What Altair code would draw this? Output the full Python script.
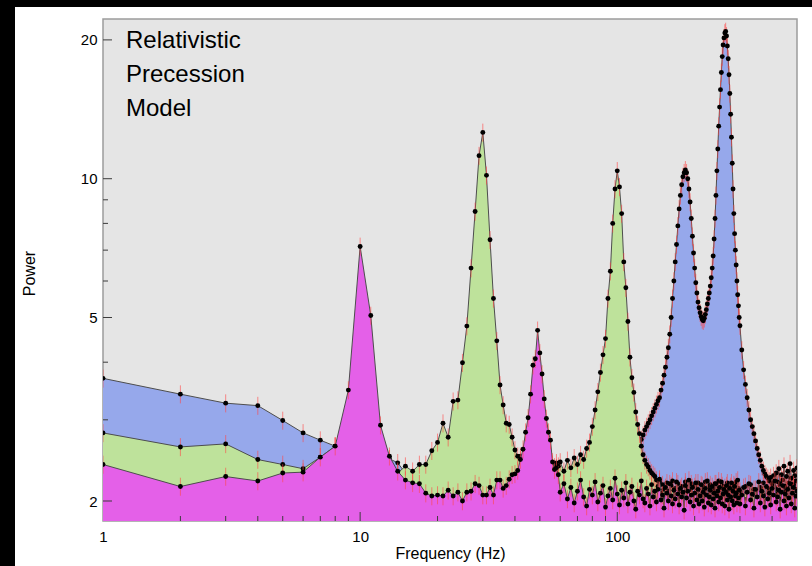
import math
import altair as alt
import pandas as pd

# ---------------- data ----------------
freq_hz = [
    1, 2, 3, 4, 5, 6, 7, 8, 9, 10, 11, 12, 13, 14, 15, 16, 17, 18, 19, 20,
    21, 22, 23, 24, 25, 26, 27, 28, 29, 30, 31, 32, 33, 34, 35, 36, 37, 38, 39, 40,
    41, 42, 43, 44, 45, 46, 47, 48, 49, 50, 51, 52, 53, 54, 55, 56, 57, 58, 59, 60,
    62, 64, 66, 68, 70, 72, 74, 76, 78, 80, 82, 84, 86, 88, 90, 92, 94, 96, 98, 100,
    102, 104, 106, 108, 110, 112, 114, 116, 118, 120, 122, 124, 126, 128, 130, 132, 134, 136, 138, 140,
    142, 144, 146, 148, 150, 152, 154, 156, 158, 160, 162, 164, 166, 168, 170, 172, 174, 176, 178, 180,
    182, 184, 186, 188, 190, 192, 194, 196, 198, 200, 202, 204, 206, 208, 210, 212, 214, 216, 218, 220,
    222, 224, 226, 228, 230, 232, 234, 236, 238, 240, 242, 244, 246, 248, 250, 252, 254, 256, 258, 260,
    262, 264, 266, 268, 270, 272, 274, 276, 278, 280, 282, 284, 286, 288, 290, 292, 294, 296, 298, 300,
    305, 310, 315, 320, 325, 330, 335, 340, 345, 350, 355, 360, 365, 370, 375, 380, 385, 390, 395, 400,
    405, 410, 415, 420, 425, 430, 435, 440, 445, 450, 455, 460, 465, 470, 475, 480, 485, 490, 495, 500,
]

power_blue = [
    3.69, 3.41, 3.26, 3.22, 2.99, 2.81, 2.71, 2.63, 2.55, 2.50,
    2.48, 2.46, 2.47, 2.42, 2.30, 2.25, 2.22, 2.24, 2.20, 2.23,
    2.21, 2.19, 2.22, 2.20, 2.18, 2.21, 2.19, 2.22, 2.20, 2.18,
    2.21, 2.19, 2.17, 2.20, 2.22, 2.18, 2.21, 2.19, 2.20, 2.17,
    2.21, 2.19, 2.22, 2.18, 2.20, 2.21, 2.17, 2.19, 2.22, 2.20,
    2.18, 2.21, 2.19, 2.23, 2.20, 2.18, 2.22, 2.19, 2.21, 2.20,
    2.20, 2.18, 2.22, 2.19, 2.21, 2.17, 2.20, 2.23, 2.18, 2.21,
    2.19, 2.22, 2.20, 2.18, 2.21, 2.24, 2.19, 2.22, 2.20, 2.25,
    2.28, 2.30, 2.32, 2.35, 2.38, 2.42, 2.45, 2.50, 2.55, 2.60,
    2.66, 2.72, 2.78, 2.85, 2.90, 2.95, 3.00, 3.06, 3.12, 3.18,
    3.24, 3.30, 3.35, 3.48, 3.60, 3.75, 3.90, 4.10, 4.30, 4.60,
    5.00, 5.50, 6.00, 6.60, 7.20, 7.90, 8.60, 9.20, 9.70, 10.1,
    10.3, 10.45, 10.3, 10.0, 9.5, 8.9, 8.2, 7.5, 6.9, 6.4,
    5.95, 5.65, 5.40, 5.25, 5.12, 5.02, 4.95, 4.92, 4.98, 5.08,
    5.20, 5.35, 5.50, 5.65, 5.85, 6.10, 6.40, 6.80, 7.40, 8.20,
    9.20, 10.4, 11.6, 13.0, 14.3, 15.6, 17.0, 18.4, 19.5, 20.2,
    20.7, 20.85, 20.4, 19.4, 18.2, 16.8, 15.3, 13.8, 12.3, 10.8,
    9.5, 8.4, 7.6, 7.0, 6.5, 6.0, 5.6, 5.3, 5.0, 4.8,
    4.25, 3.85, 3.58, 3.35, 3.15, 3.00, 2.90, 2.80, 2.70, 2.60,
    2.52, 2.45, 2.38, 2.33, 2.29, 2.26, 2.24, 2.21, 2.25, 2.18,
    2.27, 2.14, 2.30, 2.20, 2.35, 2.16, 2.28, 2.22, 2.38, 2.15,
    2.26, 2.32, 2.19, 2.41, 2.24, 2.17, 2.33, 2.27, 2.21, 2.36,
]

power_green = [
    2.81, 2.62, 2.66, 2.46, 2.40, 2.35, 2.49, 2.63, 2.58, 2.54,
    2.50, 2.46, 2.42, 2.30, 2.38, 2.32, 2.40, 2.40, 2.57, 2.68,
    2.95, 2.75, 3.29, 3.31, 3.99, 4.79, 6.40, 8.49, 11.22, 12.6,
    10.17, 7.37, 5.50, 4.45, 3.57, 3.23, 2.95, 2.93, 2.75, 2.58,
    2.50, 2.50, 2.48, 2.45, 2.43, 2.40, 2.41, 2.38, 2.36, 2.39,
    2.35, 2.37, 2.34, 2.38, 2.36, 2.40, 2.37, 2.42, 2.38, 2.43,
    2.32, 2.45, 2.36, 2.48, 2.40, 2.52, 2.46, 2.60, 2.68, 2.90,
    3.15, 3.45, 3.80, 4.15, 4.50, 5.50, 6.30, 8.00, 9.50, 10.4,
    9.6, 8.4, 6.6, 5.8, 4.9, 4.1, 3.7, 3.44, 3.12, 2.93,
    2.80, 2.63, 2.52, 2.45, 2.40, 2.37, 2.33, 2.30, 2.28, 2.26,
    2.22, 2.15, 2.20, 2.08, 2.17, 2.12, 2.03, 2.19, 2.10, 2.05,
    2.16, 2.21, 1.99, 2.13, 2.07, 2.18, 2.02, 2.11, 2.15, 1.97,
    2.09, 2.20, 2.04, 2.14, 2.01, 2.12, 2.18, 2.06, 1.98, 2.15,
    2.03, 2.10, 2.19, 2.05, 1.96, 2.11, 2.16, 2.02, 2.08, 2.20,
    1.99, 2.06, 2.14, 2.01, 2.17, 2.09, 1.95, 2.12, 2.04, 2.18,
    2.00, 2.13, 2.07, 2.21, 1.98, 2.10, 2.05, 2.16, 2.02, 1.94,
    2.14, 2.08, 2.00, 2.19, 2.11, 2.04, 1.97, 2.15, 2.06, 2.12,
    1.99, 2.17, 2.03, 2.09, 2.20, 1.96, 2.07, 2.13, 2.01, 2.10,
    2.04, 1.96, 2.15, 2.02, 1.99, 2.17, 2.06, 2.12, 1.95, 2.09,
    2.01, 2.14, 1.97, 2.19, 2.05, 2.00, 2.13, 1.94, 2.10, 2.03,
    2.16, 1.98, 2.12, 2.07, 1.96, 2.18, 2.02, 2.09, 2.15, 1.99,
    2.11, 2.05, 1.93, 2.14, 2.08, 2.01, 2.17, 2.04, 1.97, 2.12,
]

power_magenta = [
    2.40, 2.15, 2.26, 2.21, 2.30, 2.31, 2.49, 2.63, 3.48, 7.13,
    5.05, 2.92, 2.50, 2.32, 2.22, 2.19, 2.18, 2.08, 2.05, 2.06,
    2.05, 2.11, 2.05, 2.09, 2.00, 2.09, 2.10, 2.18, 2.16, 2.06,
    2.06, 2.14, 2.06, 2.22, 2.22, 2.13, 2.16, 2.23, 2.28, 2.29,
    2.33, 2.46, 2.59, 2.82, 3.03, 3.41, 3.94, 4.07, 4.69, 4.19,
    3.77, 3.33, 3.02, 2.82, 2.71, 2.43, 2.34, 2.36, 2.28, 2.09,
    2.18, 2.02, 2.14, 1.98, 2.10, 2.22, 2.04, 1.95, 2.12, 2.06,
    2.20, 1.99, 2.08, 2.16, 1.94, 2.05, 2.13, 2.01, 2.24, 2.07,
    1.96, 2.11, 2.03, 2.19, 1.97, 2.09, 2.15, 2.00, 1.92, 2.10,
    2.06, 2.21, 2.02, 1.98, 2.13, 2.07, 1.95, 2.17, 2.04, 2.10,
    1.99, 2.12, 2.23, 2.01, 2.06, 1.93, 2.14, 2.08, 2.00, 2.18,
    2.05, 1.97, 2.11, 2.02, 2.20, 2.07, 1.96, 2.13, 2.04, 2.09,
    1.91, 2.16, 2.03, 2.10, 2.22, 1.99, 2.06, 2.14, 1.95, 2.08,
    2.19, 2.01, 2.12, 1.97, 2.05, 2.17, 2.00, 2.09, 1.94, 2.13,
    2.06, 2.21, 1.98, 2.04, 2.11, 1.96, 2.15, 2.02, 2.08, 1.93,
    2.18, 2.05, 2.10, 1.99, 2.14, 2.03, 2.20, 1.97, 2.07, 2.12,
    1.95, 2.09, 2.16, 2.01, 2.06, 1.92, 2.13, 2.04, 2.19, 2.00,
    2.10, 1.96, 2.15, 2.05, 2.08, 1.98, 2.22, 2.03, 2.11, 1.97,
    2.06, 2.14, 1.95, 2.09, 2.18, 2.01, 2.07, 1.93, 2.12, 2.04,
    2.20, 1.98, 2.10, 2.05, 1.94, 2.15, 2.02, 2.08, 1.96, 2.13,
    2.06, 2.21, 1.99, 2.04, 2.11, 1.92, 2.09, 2.16, 2.00, 2.07,
    1.95, 2.12, 2.03, 2.18, 1.97, 2.08, 2.14, 1.93, 2.05, 2.10,
]

series_names = ["blue", "green", "magenta"]
series_fill = {"blue": "#96a8eb", "green": "#bee29b", "magenta": "#e460e8"}
relative_error = 0.045
area_floor = 1.0  # area baseline, below the bottom of the plot

annotation_lines = ["Relativistic", "Precession", "Model"]
annotation_pos = {"freq": [1.229], "power": [19.2]}

x_label_values = [1, 10, 100]
x_major_ticks = [10, 100]
x_minor_ticks = [2, 3, 4, 5, 6, 7, 8, 9, 20, 30, 40, 50, 60, 70, 80, 90, 200, 300, 400]
y_label_values = [2, 5, 10, 20]
y_major_ticks = [2, 5, 10, 20]
y_minor_ticks = [3, 4, 6, 7, 8, 9]

assert len(freq_hz) == len(power_blue) == len(power_green) == len(power_magenta)

# ---------------- chart ----------------
W, H = 694, 502
FONT = "Liberation Sans"
TICK_COLOR = "#3c3c3c"
X_DOMAIN = [1, 500]
Y_DOMAIN = [1.81, 22.2]
MAJOR_PX, MINOR_PX = 9, 5

rows = []
for name, vals in zip(series_names, [power_blue, power_green, power_magenta]):
    for f, p in zip(freq_hz, vals):
        rows.append({"freq": f, "power": p, "series": name})
df = pd.DataFrame(rows)

x_scale = alt.Scale(type="log", domain=X_DOMAIN, nice=False)
y_scale = alt.Scale(type="log", domain=Y_DOMAIN, nice=False)

# pixel length of a tick expressed as a factor along each log axis
x_px_per_dec = W / math.log10(X_DOMAIN[1] / X_DOMAIN[0])
y_px_per_dec = H / math.log10(Y_DOMAIN[1] / Y_DOMAIN[0])


def x_factor(px):
    return 10 ** (px / x_px_per_dec)


def y_factor(px):
    return 10 ** (px / y_px_per_dec)


label_x_axis = alt.Axis(
    values=x_label_values, format="d", title="Frequency (Hz)", ticks=False, domain=False,
    grid=False, labelPadding=8, labelFontSize=15, titleFontSize=16, titleFontWeight="normal",
    titleY=37, titleBaseline="alphabetic", labelFlush=False, labelColor="black", titleColor="black",
)
label_y_axis = alt.Axis(
    values=y_label_values, format="d", title="Power", ticks=False, domain=False,
    grid=False, labelPadding=6, labelFontSize=15, titleFontSize=16, titleFontWeight="normal",
    titleX=-69, titleY=H / 2 + 3, titleBaseline="alphabetic", titleAngle=-90,
    labelColor="black", titleColor="black",
)

one_row = pd.DataFrame({"k": [0]})
band_top = alt.Chart(one_row).mark_rect(color="black").encode(
    x=alt.value(-103), x2=alt.value(W + 15), y=alt.value(-19), y2=alt.value(-12)
)
band_left = alt.Chart(one_row).mark_rect(color="black").encode(
    x=alt.value(-103), x2=alt.value(-88), y=alt.value(-19), y2=alt.value(H + 45)
)

layers = [band_top, band_left]
for i, s in enumerate(series_names):
    d = df[df.series == s]
    xa = label_x_axis if i == 0 else None
    ya = label_y_axis if i == 0 else None
    area = alt.Chart(d).transform_calculate(base=str(area_floor)).mark_area(
        color=series_fill[s], opacity=1, clip=True
    ).encode(
        x=alt.X("freq:Q", scale=x_scale, axis=xa),
        y=alt.Y("power:Q", scale=y_scale, axis=ya),
        y2="base:Q",
    )
    line = alt.Chart(d).mark_line(color="#4d4d4d", strokeWidth=1, clip=True).encode(
        x=alt.X("freq:Q", scale=x_scale, axis=None),
        y=alt.Y("power:Q", scale=y_scale, axis=None),
    )
    errs = alt.Chart(d).transform_calculate(
        lo=f"datum.power * {1 - relative_error}", hi=f"datum.power * {1 + relative_error}"
    ).mark_rule(color="#ff4646", opacity=0.6, strokeWidth=1, clip=True).encode(
        x=alt.X("freq:Q", scale=x_scale, axis=None),
        y=alt.Y("lo:Q", scale=y_scale, axis=None),
        y2="hi:Q",
    )
    pts = alt.Chart(d).mark_circle(size=24, color="black", opacity=1, clip=True).encode(
        x=alt.X("freq:Q", scale=x_scale, axis=None),
        y=alt.Y("power:Q", scale=y_scale, axis=None),
    )
    layers += [area, line, errs, pts]

# inward-pointing ticks along the bottom and left edges, placed through the scales
xt_rows = [{"v": v, "y0": Y_DOMAIN[0], "y1": Y_DOMAIN[0] * y_factor(MAJOR_PX)} for v in x_major_ticks]
xt_rows += [{"v": v, "y0": Y_DOMAIN[0], "y1": Y_DOMAIN[0] * y_factor(MINOR_PX)} for v in x_minor_ticks]
yt_rows = [{"v": v, "x0": X_DOMAIN[0], "x1": X_DOMAIN[0] * x_factor(MAJOR_PX)} for v in y_major_ticks]
yt_rows += [{"v": v, "x0": X_DOMAIN[0], "x1": X_DOMAIN[0] * x_factor(MINOR_PX)} for v in y_minor_ticks]

x_tick_layer = alt.Chart(pd.DataFrame(xt_rows)).mark_rule(color=TICK_COLOR, strokeWidth=1).encode(
    x=alt.X("v:Q", scale=x_scale, axis=None),
    y=alt.Y("y0:Q", scale=y_scale, axis=None),
    y2="y1:Q",
)
y_tick_layer = alt.Chart(pd.DataFrame(yt_rows)).mark_rule(color=TICK_COLOR, strokeWidth=1).encode(
    y=alt.Y("v:Q", scale=y_scale, axis=None),
    x=alt.X("x0:Q", scale=x_scale, axis=None),
    x2="x1:Q",
)
layers += [x_tick_layer, y_tick_layer]

text = alt.Chart(pd.DataFrame(annotation_pos)).mark_text(
    text=annotation_lines, align="left", baseline="alphabetic", fontSize=24, lineHeight=34,
    font=FONT, color="black",
).encode(
    x=alt.X("freq:Q", scale=x_scale, axis=None),
    y=alt.Y("power:Q", scale=y_scale, axis=None),
)
layers.append(text)

chart = (
    alt.layer(*layers)
    .resolve_axis(x="independent", y="independent")
    .properties(
        width=W, height=H,
        autosize=alt.AutoSizeParams(type="none"),
        padding={"left": 103, "top": 19, "right": 15, "bottom": 45},
        background="white",
    )
    .configure_view(fill="#e5e5e5", stroke="#9c9c9c", strokeWidth=1.5)
    .configure_axis(labelFont=FONT, titleFont=FONT)
)

chart.save("out.html", embed_options={"renderer": "svg", "actions": False})
